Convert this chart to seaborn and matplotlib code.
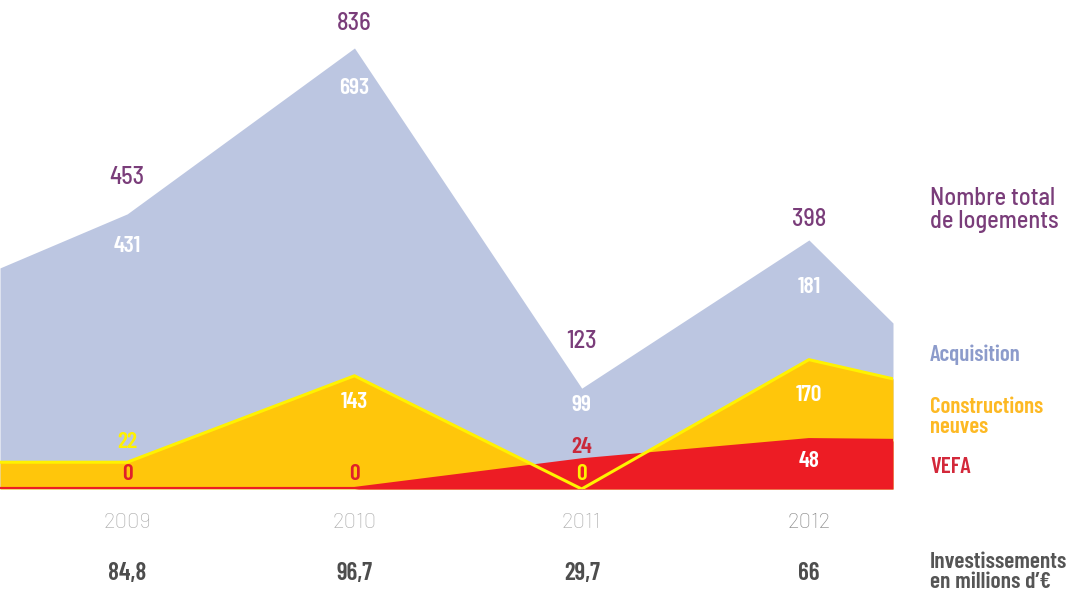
import numpy as np
import pandas as pd
import seaborn as sns
import matplotlib.pyplot as plt

# ---- data ----
years = [2009, 2010, 2011, 2012]
totals = [453, 836, 123, 398]
acquisition = [431, 693, 99, 181]
constructions = [22, 143, 0, 170]
vefa = [0, 0, 24, 48]
investments = ["84,8", "96,7", "29,7", "66"]

# the areas run past both sides of the frame; values where they are cut off
edge_x = [2008.44, 2012.37]
edge_total = [341, 235]
edge_constructions = [22, 138]
edge_vefa = [0, 47]

df = pd.DataFrame({
    "year": [edge_x[0]] + years + [edge_x[1]],
    "total": [edge_total[0]] + totals + [edge_total[1]],
    "constructions": [edge_constructions[0]] + constructions + [edge_constructions[1]],
    "vefa": [edge_vefa[0]] + vefa + [edge_vefa[1]],
})

LAVENDER = "#bcc6e1"
YELLOW = "#ffc60b"
YELLOW_LINE = "#fff200"
RED = "#ed1c24"
PURPLE = "#7a3d7a"

sns.set_theme(style="white")
COND = ["Barlow Condensed", "DejaVu Sans"]
SEMI = ["Barlow Semi Condensed", "Barlow", "DejaVu Sans"]
REG = ["Barlow", "Lato", "DejaVu Sans"]
plt.rcParams["font.family"] = REG

fig = plt.figure(figsize=(10.74, 5.95), dpi=100)
ax = fig.add_axes([0, 106 / 595, 893 / 1074, 489 / 595])

# the original artwork is drawn on a compressed (power ~0.77) vertical scale
P = 0.77
ax.set_yscale("function", functions=(lambda v: np.sign(v) * np.abs(v) ** P,
                                     lambda v: np.sign(v) * np.abs(v) ** (1 / P)))

ax.fill_between(df["year"], 0, df["total"], color=LAVENDER, lw=0)
ax.fill_between(df["year"], 0, df["constructions"], color=YELLOW, lw=0)
ax.fill_between(df["year"], 0, df["vefa"], color=RED, lw=0)
sns.lineplot(data=df, x="year", y="vefa", color=RED, lw=3, ax=ax)
sns.lineplot(data=df, x="year", y="constructions", color=YELLOW_LINE, lw=2.2, ax=ax)

ax.set_xlim(edge_x[0], edge_x[1])
ax.set_ylim(0, 956)
ax.axis("off")

PX = 0.72  # points per pixel at 100 dpi


def label(x, y, s, dy_px, color, family, size, weight="semibold"):
    ax.annotate(s, (x, y), xytext=(0, -dy_px * PX), textcoords="offset points",
                ha="center", va="center", color=color, fontsize=size,
                fontweight=weight, family=family, annotation_clip=False)


tot_off = [-36, -24, -47, -20]
acq_off = [32, 40, 17, 47]
con_off = [-20, 26, -15, 35]
con_col = [YELLOW_LINE, "white", YELLOW_LINE, "white"]
vefa_off = [-15, -15, -13, 21]
vefa_col = ["#e0202a", "#e0202a", "#c9283a", "white"]

for i, yr in enumerate(years):
    label(yr, totals[i], str(totals[i]), tot_off[i], PURPLE, SEMI, 17.5, "medium")
    label(yr, totals[i], str(acquisition[i]), acq_off[i], "white", COND, 17)
    label(yr, constructions[i], str(constructions[i]), con_off[i], con_col[i], COND, 17)
    label(yr, vefa[i], str(vefa[i]), vefa_off[i], vefa_col[i], COND, 17)

year_col = ["#adadad", "#adadad", "#adadad", "#8a8a8a"]
xt = ax.get_xaxis_transform()
for i, yr in enumerate(years):
    ax.text(yr, -33 / 489, str(yr), transform=xt, ha="center", va="center",
            color=year_col[i], fontsize=16, fontweight="light", family=REG)
    ax.text(yr, -84 / 489, investments[i], transform=xt, ha="center", va="center",
            color="#4d4d4d", fontsize=18, fontweight="semibold", family=COND)

# legend-like labels on the right
lx = 930 / 1074
fig.text(lx, 1 - 210 / 595, "Nombre total\nde logements", ha="left", va="center",
         color=PURPLE, fontsize=17.5, fontweight="medium", family=SEMI, linespacing=1.0)
fig.text(lx, 1 - 355 / 595, "Acquisition", ha="left", va="center",
         color="#8c9bcb", fontsize=16.5, fontweight="semibold", family=COND)
fig.text(lx, 1 - 417 / 595, "Constructions\nneuves", ha="left", va="center",
         color="#fdb924", fontsize=16.5, fontweight="semibold", family=COND, linespacing=0.95)
fig.text(lx, 1 - 467 / 595, "VEFA", ha="left", va="center",
         color="#d3283a", fontsize=16.5, fontweight="semibold", family=COND)
fig.text(lx, 1 - 572 / 595, "Investissements\nen millions d’€", ha="left", va="center",
         color="#555555", fontsize=17, fontweight="semibold", family=COND, linespacing=0.95)

fig.savefig("out.png", dpi=100)
